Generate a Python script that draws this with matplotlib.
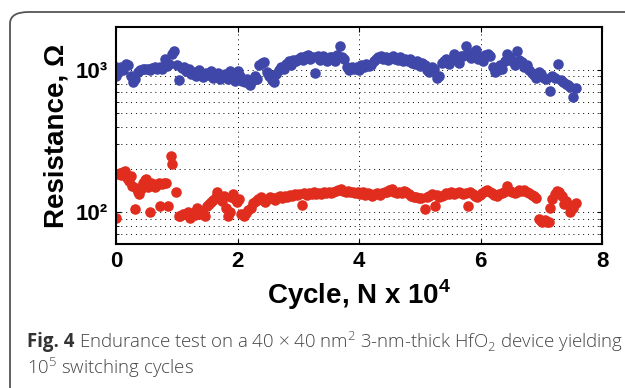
import matplotlib.pyplot as plt
from matplotlib.patches import FancyBboxPatch
from matplotlib.ticker import LogLocator, NullFormatter

# Данные (цикл, N x 10^4 ; сопротивление, Ом)
blue_x = [0.00, 0.00, 0.04, 0.08, 0.12, 0.16, 0.20, 0.24, 0.28, 0.32, 0.36, 0.40, 0.44, 0.48,
          0.52, 0.56, 0.60, 0.64, 0.68, 0.72, 0.76, 0.80, 0.84, 0.88, 0.92, 0.96, 1.00, 1.04,
          1.08, 1.12, 1.16, 1.20, 1.24, 1.28, 1.32, 1.36, 1.40, 1.44, 1.48, 1.52, 1.56, 1.60,
          1.64, 1.68, 1.72, 1.76, 1.80, 1.84, 1.88, 1.92, 1.96, 2.00, 2.04, 2.08, 2.12, 2.16,
          2.20, 2.24, 2.28, 2.32, 2.36, 2.40, 2.44, 2.48, 2.52, 2.56, 2.60, 2.64, 2.68, 2.72,
          2.76, 2.80, 2.84, 2.88, 2.92, 2.96, 3.00, 3.04, 3.08, 3.12, 3.16, 3.20, 3.24, 3.28,
          3.32, 3.36, 3.40, 3.44, 3.48, 3.52, 3.56, 3.60, 3.64, 3.68, 3.72, 3.76, 3.80, 3.84,
          3.88, 3.92, 3.96, 4.00, 4.04, 4.08, 4.12, 4.16, 4.20, 4.24, 4.28, 4.32, 4.36, 4.40,
          4.44, 4.48, 4.52, 4.56, 4.60, 4.64, 4.68, 4.72, 4.76, 4.80, 4.84, 4.88, 4.92, 4.96,
          5.00, 5.04, 5.08, 5.12, 5.16, 5.20, 5.24, 5.28, 5.32, 5.36, 5.40, 5.44, 5.48, 5.52,
          5.56, 5.60, 5.64, 5.68, 5.72, 5.76, 5.80, 5.84, 5.88, 5.92, 5.96, 6.00, 6.04, 6.08,
          6.12, 6.16, 6.20, 6.24, 6.28, 6.32, 6.36, 6.40, 6.44, 6.48, 6.52, 6.56, 6.60, 6.64,
          6.68, 6.72, 6.76, 6.80, 6.84, 6.88, 6.92, 6.96, 7.00, 7.04, 7.08, 7.14, 7.18, 7.22,
          7.28, 7.32, 7.36, 7.40, 7.44, 7.48, 7.52, 7.57]
blue_r = [1040, 900, 960, 1040, 1000, 1100, 1080, 900, 820, 870, 960, 1000, 1010, 1015,
          1020, 1000, 1030, 1040, 1020, 1050, 1010, 1195, 1060, 1100, 1300, 1366, 1080, 851,
          1030, 1050, 980, 1010, 930, 960, 900, 1000, 930, 890, 950, 920, 980, 880,
          920, 950, 860, 900, 930, 870, 980, 860, 840, 990, 900, 840, 820, 870,
          780, 830, 900, 860, 1080, 1120, 1131, 960, 900, 850, 818, 930, 1000, 1050,
          1020, 1100, 1150, 1080, 1180, 1150, 1200, 1230, 1180, 1250, 1270, 1200, 1240, 947,
          1250, 1170, 1260, 1200, 1150, 1230, 1240, 1160, 1280, 1481, 1240, 1200, 1040, 1000,
          1040, 1020, 1050, 1000, 1080, 1040, 1100, 1060, 1080, 1150, 1200, 1230, 1260, 1200,
          1240, 1180, 1210, 1250, 1200, 1170, 1230, 1160, 1190, 1150, 1190, 1120, 1100, 1150,
          1060, 1120, 1080, 1000, 960, 1050, 1010, 880, 900, 1120, 1160, 1200, 1100, 1180,
          1290, 1180, 1110, 1250, 1260, 1481, 1330, 1220, 1290, 1370, 1200, 1240, 1160, 1280,
          1295, 1250, 1040, 962, 1000, 1080, 1020, 1150, 1290, 1230, 1160, 1090, 1366, 1180,
          1130, 1040, 1090, 1000, 950, 920, 880, 960, 930, 880, 860, 716, 900, 880,
          1100, 850, 820, 790, 780, 760, 650, 750]

red_x = [0.00, 0.03, 0.06, 0.09, 0.12, 0.15, 0.18, 0.21, 0.24, 0.27, 0.31, 0.33, 0.36, 0.38,
         0.41, 0.44, 0.47, 0.49, 0.52, 0.56, 0.58, 0.61, 0.64, 0.67, 0.70, 0.73, 0.76, 0.79,
         0.82, 0.85, 0.90, 0.93, 0.98, 1.03, 1.06, 1.10, 1.14, 1.18, 1.22, 1.26, 1.30, 1.34,
         1.38, 1.42, 1.46, 1.50, 1.53, 1.56, 1.60, 1.64, 1.67, 1.71, 1.75, 1.78, 1.81, 1.84,
         1.87, 1.90, 1.93, 1.96, 1.99, 2.02, 2.06, 2.10, 2.14, 2.18, 2.22, 2.26, 2.30, 2.34,
         2.38, 2.42, 2.46, 2.50, 2.54, 2.58, 2.62, 2.66, 2.70, 2.74, 2.78, 2.82, 2.86, 2.90,
         2.94, 2.98, 3.02, 3.06, 3.10, 3.14, 3.18, 3.22, 3.26, 3.30, 3.34, 3.38, 3.42, 3.46,
         3.50, 3.54, 3.58, 3.62, 3.66, 3.70, 3.74, 3.78, 3.82, 3.86, 3.90, 3.94, 3.98, 4.02,
         4.06, 4.10, 4.14, 4.18, 4.22, 4.26, 4.30, 4.34, 4.38, 4.42, 4.46, 4.50, 4.54, 4.58,
         4.62, 4.66, 4.70, 4.74, 4.78, 4.82, 4.86, 4.90, 4.94, 4.98, 5.02, 5.08, 5.12, 5.16,
         5.20, 5.25, 5.28, 5.32, 5.36, 5.40, 5.44, 5.48, 5.52, 5.56, 5.60, 5.64, 5.68, 5.72,
         5.76, 5.79, 5.83, 5.87, 5.91, 5.95, 5.99, 6.03, 6.07, 6.11, 6.15, 6.19, 6.23, 6.27,
         6.31, 6.35, 6.39, 6.44, 6.48, 6.52, 6.56, 6.60, 6.64, 6.68, 6.72, 6.76, 6.80, 6.84,
         6.88, 6.91, 6.96, 6.99, 7.02, 7.06, 7.10, 7.13, 7.15, 7.18, 7.22, 7.26, 7.30, 7.34,
         7.37, 7.41, 7.45, 7.48, 7.52, 7.57]
red_r = [91, 186, 190, 182, 192, 196, 175, 165, 181, 154, 106, 148, 140, 135,
         145, 160, 168, 172, 150, 101, 162, 158, 150, 155, 160, 111, 158, 160,
         162, 111, 250, 218, 138, 95, 95, 98, 97, 100, 92, 99, 96, 108,
         97, 102, 95, 110, 114, 118, 122, 128, 138, 128, 120, 131, 108, 95,
         100, 128, 135, 125, 118, 124, 97, 95, 99, 104, 108, 116, 121, 124,
         128, 122, 119, 125, 128, 127, 123, 129, 131, 127, 130, 128, 133, 131,
         135, 132, 134, 113, 136, 133, 137, 134, 138, 135, 137, 134, 138, 136,
         139, 137, 140, 141, 143, 146, 142, 140, 141, 139, 140, 136, 138, 135,
         138, 132, 136, 134, 131, 135, 137, 133, 136, 138, 140, 143, 146, 140,
         136, 139, 136, 141, 138, 134, 131, 129, 128, 127, 126, 106, 129, 131,
         135, 111, 132, 128, 131, 133, 136, 134, 138, 135, 137, 140, 136, 134,
         136, 110, 138, 134, 131, 128, 133, 137, 141, 143, 140, 136, 133, 131,
         134, 137, 140, 154, 142, 139, 137, 140, 143, 141, 144, 140, 136, 132,
         130, 127, 90, 87, 85, 88, 86, 86, 108, 125, 134, 142, 138, 130,
         115, 120, 112, 101, 108, 116]

x_ticks = [0, 2, 4, 6, 8]
y_ticks = [100, 1000]
y_labels = ['10²', '10³']

plt.rcParams['mathtext.fontset'] = 'custom'
plt.rcParams['mathtext.rm'] = 'Liberation Sans:bold'
plt.rcParams['mathtext.sf'] = 'Open Sans:light'

fig = plt.figure(figsize=(6.25, 3.88), dpi=100)

# рамка подписи
frame = FancyBboxPatch((10 / 625, -0.2), 1.2, 1.2 - 12 / 388,
                       boxstyle='round,pad=0,rounding_size=0.03',
                       transform=fig.transFigure, fill=False,
                       edgecolor='#555555', linewidth=1.3)
fig.patches.append(frame)

ax = fig.add_axes([116 / 625, 1 - 244 / 388, 486 / 625, 217 / 388])
ax.plot(blue_x, blue_r, 'o', color='#3f48a8', ms=7.6, mec='none')
ax.plot(red_x, red_r, 'o', color='#e02d1e', ms=7.6, mec='none')

ax.set_yscale('log')
ax.set_xlim(0, 8)
ax.set_ylim(60, 2000)
ax.set_xticks(x_ticks)
ax.set_yticks(y_ticks)
ax.set_yticklabels(y_labels)
ax.yaxis.set_minor_locator(LogLocator(base=10, subs=range(2, 10)))
ax.yaxis.set_minor_formatter(NullFormatter())

ax.grid(True, which='major', axis='both', linestyle=(0, (1, 4)), color='k', linewidth=0.7)
ax.grid(True, which='minor', axis='y', linestyle=(0, (1, 4)), color='k', linewidth=0.7)

ax.tick_params(axis='both', which='both', direction='in', top=True, right=True)
ax.tick_params(axis='x', labelsize=16, pad=5)
ax.tick_params(axis='y', labelsize=16, pad=6)
for lab in ax.get_xticklabels() + ax.get_yticklabels():
    lab.set_fontweight('bold')
    lab.set_family(['Liberation Sans', 'DejaVu Sans'])
for sp in ax.spines.values():
    sp.set_linewidth(1.5)

ax.set_xlabel('Cycle, N x 10$^{\\mathregular{4}}$', fontsize=20, fontweight='bold',
              family=['Liberation Sans', 'DejaVu Sans'], labelpad=4)
ax.set_ylabel('Resistance, Ω', fontsize=20, fontweight='bold',
              family=['Liberation Sans', 'DejaVu Sans'], labelpad=4)

# подпись рисунка
cap_x, cap_y1, cap_y2 = 27 / 625, 1 - 342 / 388, 1 - 368 / 388
t_fig = fig.text(cap_x, cap_y1, 'Fig. 4', fontsize=13.4, fontweight='bold', color='#333333',
                 family='Open Sans', va='center')
r = fig.canvas.get_renderer()
w = t_fig.get_window_extent(r).width / fig.bbox.width
fig.text(cap_x + w + 0.008, cap_y1,
         r'Endurance test on a 40 × 40 nm$^{\mathsf{2}}$ 3-nm-thick HfO$_{\mathsf{2}}$ device yielding',
         fontsize=13.4, color='#444444', family='Open Sans', fontweight='light', va='center')
fig.text(cap_x, cap_y2, r'10$^{\mathsf{5}}$ switching cycles', fontsize=13.4,
         color='#444444', family='Open Sans', fontweight='light', va='center')

fig.savefig('out.png', dpi=100)
